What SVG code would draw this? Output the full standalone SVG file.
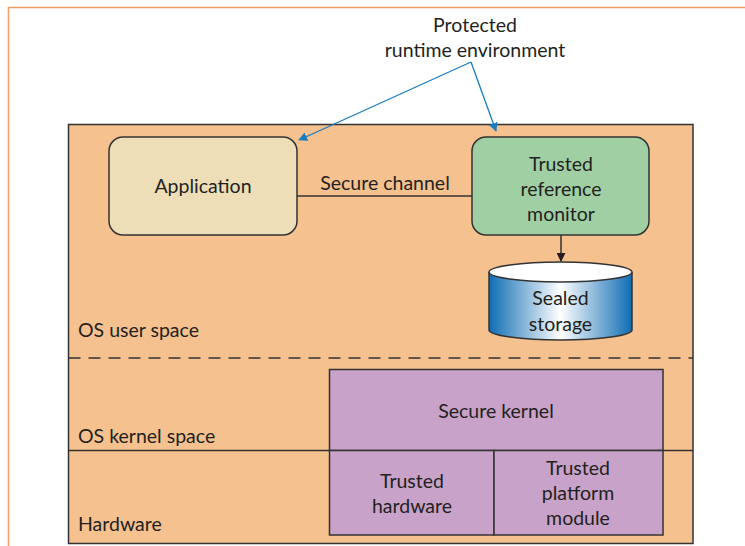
<svg xmlns="http://www.w3.org/2000/svg" width="745" height="546" viewBox="0 0 745 546">
<style>
text{font-family:Lato,"Open Sans","Liberation Sans",sans-serif;font-size:19.5px;fill:#231f20;}
.c{text-anchor:middle;}
.box{stroke:#333;stroke-width:1.5;}
.ln{stroke:#333;stroke-width:1.5;fill:none;}
.blue{stroke:#1a7cc0;stroke-width:1.3;fill:none;}
</style>
<defs>
<marker id="ab" viewBox="0 0 10 10" refX="9" refY="5" markerWidth="9" markerHeight="9" orient="auto" markerUnits="userSpaceOnUse"><path d="M0,0 L10,5 L0,10 z" fill="#1a7cc0"/></marker>
<marker id="ak" viewBox="0 0 10 10" refX="9" refY="5" markerWidth="9" markerHeight="9" orient="auto" markerUnits="userSpaceOnUse"><path d="M0,0 L10,5 L0,10 z" fill="#231f20"/></marker>
<linearGradient id="cyl" x1="0" x2="1" y1="0" y2="0">
<stop offset="0" stop-color="#0f6db3"/>
<stop offset="0.5" stop-color="#ffffff"/>
<stop offset="1" stop-color="#0f6db3"/>
</linearGradient>
</defs>
<path d="M8.5 546 V7.5 H745" fill="none" stroke="#f0a068" stroke-width="1.5"/>
<g id="main">
<rect x="68.5" y="124.5" width="624.5" height="419" fill="#f5c18f" class="box"/>
<line x1="68.5" y1="358" x2="693" y2="358" class="ln" stroke-dasharray="12,8"/>
<line x1="68.5" y1="450.5" x2="693" y2="450.5" class="ln"/>
<text x="78" y="337">OS user space</text>
<text x="78" y="443">OS kernel space</text>
<text x="78" y="531">Hardware</text>
</g>
<g id="title">
<text x="475" y="32" class="c">Protected</text>
<text x="475" y="57" class="c">runtime environment</text>
</g>
<g id="application">
<rect x="109" y="137" width="188" height="98" rx="14" fill="#eddeb8" class="box"/>
<text x="203" y="193" class="c">Application</text>
</g>
<g id="trm">
<rect x="472" y="137" width="177" height="98" rx="14" fill="#a0cfa4" class="box"/>
<text x="561" y="171" class="c">Trusted</text>
<text x="561" y="196" class="c">reference</text>
<text x="561" y="221" class="c">monitor</text>
</g>
<g id="sealed">
<path d="M489 272 V330 A71.5 10 0 0 0 632 330 V272" fill="url(#cyl)" class="box"/>
<ellipse cx="560.5" cy="272" rx="71.5" ry="10" fill="#ffffff" class="box"/>
<text x="560.5" y="305" class="c">Sealed</text>
<text x="560.5" y="331" class="c">storage</text>
</g>
<g id="kernel">
<rect x="329.5" y="369.5" width="333.5" height="81" fill="#c8a2c8" class="box"/>
<text x="496" y="418" class="c">Secure kernel</text>
</g>
<g id="hardware">
<rect x="329.5" y="450.5" width="164.5" height="84.5" fill="#c8a2c8" class="box"/>
<text x="412" y="488" class="c">Trusted</text>
<text x="412" y="513" class="c">hardware</text>
</g>
<g id="tpm">
<rect x="494" y="450.5" width="169" height="84.5" fill="#c8a2c8" class="box"/>
<text x="578" y="475" class="c">Trusted</text>
<text x="578" y="500" class="c">platform</text>
<text x="578" y="525" class="c">module</text>
</g>
<g id="connectors">
<line x1="297" y1="196" x2="472" y2="196" class="ln"/>
<text x="385" y="190" class="c">Secure channel</text>
<line x1="561" y1="235" x2="561" y2="261" class="ln" stroke-width="1.3" marker-end="url(#ak)"/>
<line x1="471" y1="62" x2="299" y2="140" class="blue" marker-end="url(#ab)"/>
<line x1="471" y1="62" x2="496" y2="131" class="blue" marker-end="url(#ab)"/>
</g>
</svg>
